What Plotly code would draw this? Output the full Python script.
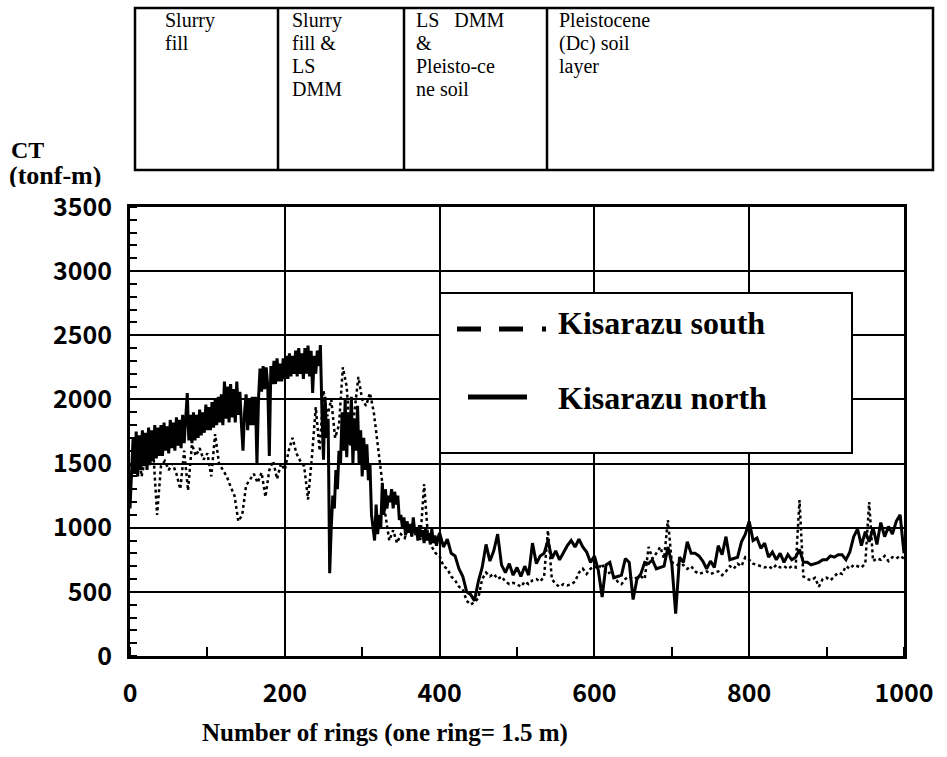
import plotly.graph_objects as go

# ---------------- data ----------------
# north line: every 2 rings up to ring 398, then every 5 rings
rings_north = list(range(0, 400, 2)) + list(range(400, 1001, 5))
rings_south = list(range(0, 1001, 5))

north = [
    # rings 0-398 (step 2)
    1150, 1500, 1700, 1420, 1750, 1400, 1720, 1450, 1760, 1480, 1740, 1450, 1780, 1500, 1760, 1520, 1800, 1540, 1780, 1560,
    1800, 1560, 1820, 1600, 1790, 1580, 1840, 1620, 1820, 1600, 1860, 1640, 1840, 1620, 1880, 1660, 1860, 2050, 1680, 1880,
    1660, 1900, 1680, 1880, 1700, 1920, 1720, 1900, 1740, 1960, 1760, 1940, 1760, 1980, 1780, 2000, 1800, 2020, 1820, 2040,
    1800, 2140, 1850, 2100, 1820, 2120, 1860, 2080, 1820, 2140, 1880, 2060, 1800, 1600, 1900, 2040, 1760, 2000, 1800, 2020,
    1800, 2020, 1500, 2000, 2240, 2060, 2260, 2080, 2250, 2100, 1560, 2260, 2120, 2300, 2120, 2320, 2140, 2280, 2140, 2320,
    2160, 2340, 2160, 2360, 2180, 2340, 2200, 2380, 2180, 2400, 2200, 2360, 2160, 2400, 2200, 2420, 2180, 2380, 2050, 2340,
    2200, 2380, 2260, 2424, 1900, 1530, 2020, 1700, 1850, 645, 1000, 1250, 1150, 1450, 1300, 1600, 1500, 1900, 1600, 2000,
    1550, 1900, 1650, 2020, 1500, 1850, 1600, 1950, 1500, 1760, 1400, 1700, 1450, 1650, 1370, 1500, 1100, 1000, 900, 1180,
    950, 1100, 1000, 1350, 1100, 1300, 1150, 1250, 1200, 1300, 1150, 1280, 1180, 1250, 1060, 1100, 1000, 1080, 940, 1050,
    960, 1030, 930, 1080, 960, 1000, 900, 1020, 930, 980, 880, 1000, 900, 960, 870, 990, 880, 940, 860, 920,
    # rings 400-1000 (step 5)
    960, 850, 910, 800, 780, 680, 620, 500, 480, 430, 580, 690, 870, 740, 820, 950, 710, 650, 720, 630,
    690, 620, 700, 630, 880, 720, 780, 800, 900, 760, 820, 750, 810, 860, 900, 850, 910, 850, 810, 730,
    780, 670, 460, 710, 730, 610, 620, 630, 760, 730, 440, 600, 640, 730, 720, 750, 680, 690, 700, 850,
    720, 330, 770, 730, 890, 800, 800, 780, 740, 680, 740, 690, 860, 790, 930, 750, 760, 770, 890, 950,
    1050, 900, 920, 840, 880, 770, 810, 750, 800, 730, 790, 750, 770, 830, 730, 730, 710, 720, 730, 750,
    750, 780, 770, 790, 790, 750, 810, 930, 990, 860, 970, 890, 1000, 870, 1040, 930, 1010, 950, 1050, 1100,
    800,
]

south = [
    1500, 1450, 1650, 1400, 1550, 1480, 1600, 1100, 1480, 1520, 1450, 1500, 1420, 1300, 1600, 1290, 1650, 1560, 1620, 1530,
    1580, 1400, 1730, 1500, 1450, 1400, 1320, 1250, 1050, 1100, 1330, 1380, 1420, 1350, 1430, 1240, 1450, 1520, 1380, 1500,
    1450, 1600, 1700, 1580, 1520, 1480, 1220, 1550, 1940, 1600, 2070, 1870, 2000, 1700, 1800, 2250, 2100, 1630, 1900, 2175,
    2000, 1950, 2050, 1900, 1650, 1400, 1100, 900, 980, 880, 950, 920, 1000, 930, 960, 900, 1340, 930, 850, 800,
    780, 700, 680, 620, 590, 540, 520, 430, 400, 420, 450, 600, 650, 620, 640, 600, 620, 580, 560, 570,
    560, 540, 580, 560, 590, 600, 580, 620, 980, 600, 560, 540, 560, 550, 560, 580, 650, 680, 640, 680,
    700, 680, 720, 640, 650, 620, 580, 560, 600, 620, 600, 610, 620, 600, 850, 760, 800, 850, 760, 1060,
    730, 720, 700, 710, 680, 700, 660, 640, 650, 660, 640, 650, 660, 630, 660, 700, 680, 720, 700, 770,
    750, 720, 710, 700, 690, 700, 680, 710, 690, 700, 680, 700, 690, 1215, 620, 600, 590, 610, 540, 600,
    610, 590, 620, 650, 640, 700, 680, 710, 700, 690, 720, 1200, 740, 760, 750, 780, 740, 770, 760, 780,
    760,
]

x_ticks = [0, 200, 400, 600, 800, 1000]
y_ticks = [0, 500, 1000, 1500, 2000, 2500, 3000, 3500]

series_names = ["Kisarazu south", "Kisarazu north"]

table_cells = [
    ["Slurry", "fill"],
    ["Slurry", "fill &amp;", "LS", "DMM"],
    ["LS\u00a0\u00a0\u00a0DMM", "&amp;", "Pleisto-ce", "ne soil"],
    ["Pleistocene", "(Dc) soil", "layer"],
]

x_title = "Number of rings (one ring= 1.5 m)"
y_title_lines = ["CT", "(tonf-m)"]

# ---------------- layout helpers (pixel -> paper) ----------------
W, H = 947, 757
L, R, T, B = 130, 43, 207, 101
PW, PH = W - L - R, H - T - B


def px(p):
    return (p - L) / PW


def py(p):
    return (H - B - p) / PH


SERIF = "Liberation Serif, Times New Roman, serif"
NARROW = "Noto Sans CJK SC, Liberation Sans, sans-serif"

fig = go.Figure()
fig.add_trace(go.Scatter(
    x=rings_south, y=south, mode="lines", name=series_names[0], showlegend=False,
    line=dict(color="black", width=2.5, dash="dot"),
))
fig.add_trace(go.Scatter(
    x=rings_north, y=north, mode="lines", name=series_names[1], showlegend=False,
    line=dict(color="black", width=3),
))

axis_common = dict(
    showline=True, linecolor="black", linewidth=3, mirror=True,
    showgrid=True, gridcolor="black", gridwidth=1.5, zeroline=False,
    ticks="", tickfont=dict(family=NARROW, size=25, color="black", weight="bold"),
)

fig.update_xaxes(
    range=[0, 1000], tickvals=x_ticks, ticktext=[str(v) for v in x_ticks],
    ticklabelstandoff=13,
    minor=dict(dtick=100, tick0=0, ticks="inside", ticklen=9, tickwidth=2, tickcolor="black", showgrid=False),
    **axis_common,
)
fig.update_yaxes(
    range=[0, 3500], tickvals=y_ticks, ticktext=[str(v) for v in y_ticks],
    ticklabelstandoff=10,
    minor=dict(dtick=100, tick0=0, ticks="inside", ticklen=7, tickwidth=2, tickcolor="black", showgrid=False),
    **axis_common,
)

shapes = []
annotations = []

# table above the plot
tbl_left, tbl_right, tbl_top, tbl_bot = 135, 933, 8, 170
dividers = [278, 404, 547]
shapes.append(dict(type="rect", xref="paper", yref="paper", x0=px(tbl_left), x1=px(tbl_right),
                   y0=py(tbl_bot), y1=py(tbl_top), line=dict(color="black", width=2.5)))
for d in dividers:
    shapes.append(dict(type="line", xref="paper", yref="paper", x0=px(d), x1=px(d),
                       y0=py(tbl_bot), y1=py(tbl_top), line=dict(color="black", width=2.5)))
text_lefts = [163, 290, 414, 557]
for tl, lines in zip(text_lefts, table_cells):
    for i, line in enumerate(lines):
        annotations.append(dict(xref="paper", yref="paper", x=px(tl), y=py(20 + 23 * i),
                                xanchor="left", yanchor="middle", align="left", showarrow=False, text=line,
                                font=dict(family=SERIF, size=20, color="black")))

# y axis title (top-left)
annotations.append(dict(xref="paper", yref="paper", x=px(9), y=py(150), xanchor="left", yanchor="middle",
                        showarrow=False, text="<b>%s</b>" % y_title_lines[0], height=22,
                        font=dict(family=SERIF, size=24, color="black")))
annotations.append(dict(xref="paper", yref="paper", x=px(7), y=py(175), xanchor="left", yanchor="middle",
                        showarrow=False, text="<b>%s</b>" % y_title_lines[1], height=24,
                        font=dict(family=SERIF, size=26, color="black")))

# x axis title
annotations.append(dict(xref="paper", yref="paper", x=px(385), y=py(733), xanchor="center", yanchor="middle",
                        showarrow=False, text="<b>%s</b>" % x_title,
                        font=dict(family=SERIF, size=25, color="black")))

# legend box
shapes.append(dict(type="rect", xref="paper", yref="paper", x0=px(440), x1=px(852), y0=py(453), y1=py(293),
                   fillcolor="white", line=dict(color="black", width=2), layer="above"))
for a, b in [(457, 481), (499, 523), (542, 546)]:
    shapes.append(dict(type="line", xref="paper", yref="paper", x0=px(a), x1=px(b), y0=py(329), y1=py(329),
                       line=dict(color="black", width=5), layer="above"))
shapes.append(dict(type="line", xref="paper", yref="paper", x0=px(468), x1=px(527), y0=py(397), y1=py(397),
                   line=dict(color="black", width=5), layer="above"))
annotations.append(dict(xref="paper", yref="paper", x=px(556), y=py(323), xanchor="left", yanchor="middle",
                        showarrow=False, text="<b>%s</b>" % series_names[0],
                        font=dict(family=SERIF, size=32, color="black")))
annotations.append(dict(xref="paper", yref="paper", x=px(556), y=py(398), xanchor="left", yanchor="middle",
                        showarrow=False, text="<b>%s</b>" % series_names[1],
                        font=dict(family=SERIF, size=32, color="black")))

fig.update_layout(
    width=W, height=H,
    margin=dict(l=L, r=R, t=T, b=B, pad=0),
    paper_bgcolor="white", plot_bgcolor="white",
    shapes=shapes, annotations=annotations,
    showlegend=False,
)

fig.write_html("out.html")
